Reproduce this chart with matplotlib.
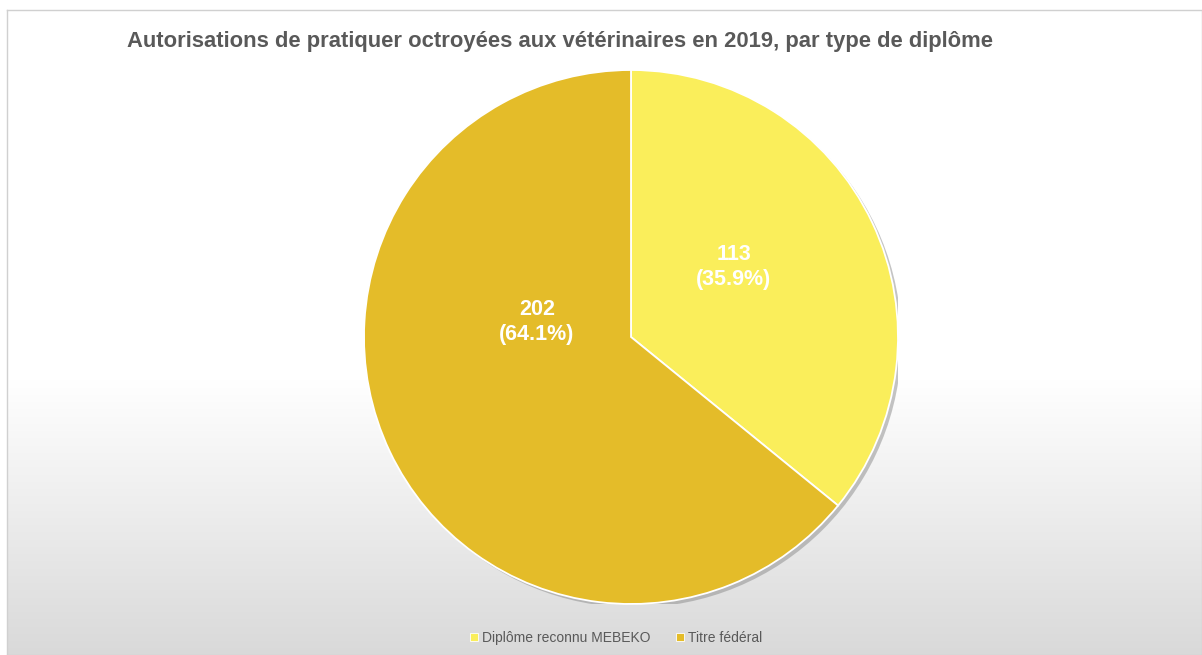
import matplotlib
matplotlib.use("Agg")
import matplotlib.pyplot as plt
import matplotlib.patheffects as pe
import numpy as np

plt.rcParams['font.family'] = ['Liberation Sans', 'DejaVu Sans']

title = "Autorisations de pratiquer octroyées aux vétérinaires en 2019, par type de diplôme"
categories = ["Diplôme reconnu MEBEKO", "Titre fédéral"]
values = [113, 202]
colors = ["#FAEE5B", "#E4BC29"]

W, H = 1202, 655
fig = plt.figure(figsize=(W / 100, H / 100), dpi=100)
fig.patch.set_facecolor("white")

# background with border and gradient
bg = fig.add_axes([7 / W, 0, (W - 7) / W, (H - 10) / H])
rows = np.arange(H - 10)
ypix = rows + 10
g = np.where(ypix < 380, 255.0, 255.0 - (ypix - 380) * (38.0 / 275.0)) / 255.0
grad = np.repeat(g[:, None], 2, axis=1)
bg.imshow(np.dstack([grad, grad, grad]), aspect="auto", extent=[0, 1, 0, 1], interpolation="bilinear")
bg.set_xlim(0, 1)
bg.set_ylim(0, 1)
bg.set_xticks([])
bg.set_yticks([])
for s in bg.spines.values():
    s.set_color("#d0d0d0")
    s.set_linewidth(1.0)

# pie
cx, cy, r = 631, 337, 267
ax = fig.add_axes([(cx - r) / W, (H - cy - r) / H, 2 * r / W, 2 * r / H])
ax.set_facecolor("none")

shadow = plt.Circle((0, 0), 1.0, facecolor="#000000", edgecolor="none", alpha=0.0,
                    path_effects=[pe.SimplePatchShadow(offset=(2.5, -2.5), shadow_rgbFace="#8a8a8a", alpha=0.5)])
ax.add_patch(shadow)

total = sum(values)
wedges, texts = ax.pie(values, colors=colors, startangle=90, counterclock=False, radius=1.0,
                       wedgeprops=dict(edgecolor="white", linewidth=1.3))
ax.set_xlim(-1, 1)
ax.set_ylim(-1, 1)
ax.set_aspect("equal")
ax.axis("off")

label_pos = [(0.385, 0.262), (-0.352, 0.056)]
for v, (lx, ly) in zip(values, label_pos):
    ax.text(lx, ly, f"{v}\n({v / total * 100:.1f}%)", ha="center", va="center",
            color="white", fontsize=15.5, fontweight="bold", linespacing=1.3)

fig.text(560 / W, 1 - 41 / H, title, ha="center", va="center", fontsize=15.8,
         fontweight="bold", color="#595959")

handles = [plt.Line2D([], [], marker="s", linestyle="none", markersize=6,
                      markerfacecolor=c, markeredgecolor="white", markeredgewidth=0.6) for c in colors]
fig.legend(handles, categories, loc="center", bbox_to_anchor=(616 / W, 1 - 638 / H), ncol=2,
           frameon=False, fontsize=10, labelcolor="#595959", handlelength=0.6, handletextpad=0.3,
           columnspacing=1.8)

fig.savefig("out.png", dpi=100)
